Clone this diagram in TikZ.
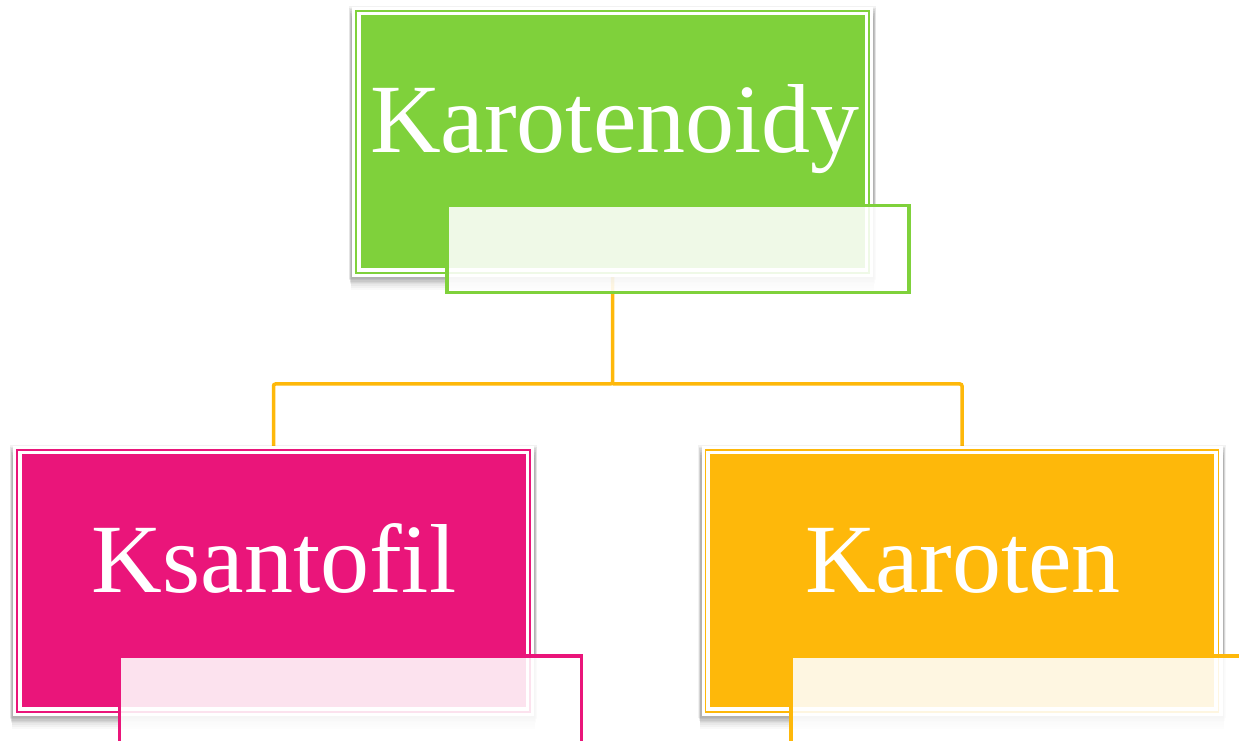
\documentclass[tikz,border=0pt]{standalone}
\usepackage{fontspec}
\setmainfont{Liberation Serif}
\usetikzlibrary{shadows,backgrounds}
\definecolor{cgreen}{HTML}{7FD13B}
\definecolor{cpink}{HTML}{EA157A}
\definecolor{corange}{HTML}{FEB80A}
\tikzset{
  framebox/.style={fill=white, draw=none, inner sep=0pt,
    minimum width=521pt, minimum height=270pt,
    general shadow={fill=black, opacity=0.025, shadow yshift=-12pt, shadow scale=1.004},
    general shadow={fill=black, opacity=0.03, shadow yshift=-10pt, shadow scale=1.004},
    general shadow={fill=black, opacity=0.035, shadow yshift=-8pt, shadow scale=1.004},
    general shadow={fill=black, opacity=0.04, shadow yshift=-6.5pt, shadow scale=1.006},
    general shadow={fill=black, opacity=0.05, shadow yshift=-5pt, shadow scale=1.006},
    general shadow={fill=black, opacity=0.06, shadow yshift=-3.5pt, shadow scale=1.008},
    general shadow={fill=black, opacity=0.06, shadow yshift=-2pt, shadow scale=1.010},
    general shadow={fill=black, opacity=0.05, shadow yshift=-0.5pt, shadow scale=1.012},
    path picture={
      \draw[#1, line width=1.3pt]
        ([shift={(4pt,4pt)}]path picture bounding box.south west) rectangle
        ([shift={(-4pt,-4pt)}]path picture bounding box.north east);
      \fill[#1]
        ([shift={(8.5pt,8.5pt)}]path picture bounding box.south west) rectangle
        ([shift={(-8.5pt,-8.5pt)}]path picture bounding box.north east);
    }},
  palebox/.style={draw=#1, line width=3.3pt, fill=white, fill opacity=0.88,
    inner sep=0pt, minimum width=462pt, minimum height=87pt},
  lbl/.style={text=white, inner sep=0pt, anchor=base,
    font=\fontsize{98}{110}\selectfont},
  conn/.style={draw=corange, line width=3.5pt, rounded corners=2pt}
}
\begin{document}
\begin{tikzpicture}[x=1pt,y=1pt]
  \useasboundingbox (0,0) rectangle (1239,741);
  \clip (0,0) rectangle (1239,741);
  % main boxes
  \node[framebox=cgreen]  (top) at (612.5,599) {};
  \node[framebox=cpink]   (ks)  at (273.5,160) {};
  \node[framebox=corange] (kt)  at (962,160) {};
  % pale overlay boxes
  \node[palebox=cgreen]  (ptop) at (678,492.25) {};
  \node[palebox=cpink]   (pks)  at (350.25,41.5) {};
  \node[palebox=corange] (pkt)  at (1022,41.5) {};
  % labels
  \node[lbl] (tkaro) at (615,588) {Karotenoidy};
  \node[lbl] (tks)   at (274,148) {Ksantofil};
  \node[lbl] (tkt)   at (963,148) {Karoten};
  % connectors
  \coordinate (mid) at (612.5,357);
  \begin{scope}[on background layer]
    \draw[conn] (top.south) -- (mid) -| (ks.north);
    \draw[conn] (mid) -| (kt.north);
  \end{scope}
\end{tikzpicture}
\end{document}
